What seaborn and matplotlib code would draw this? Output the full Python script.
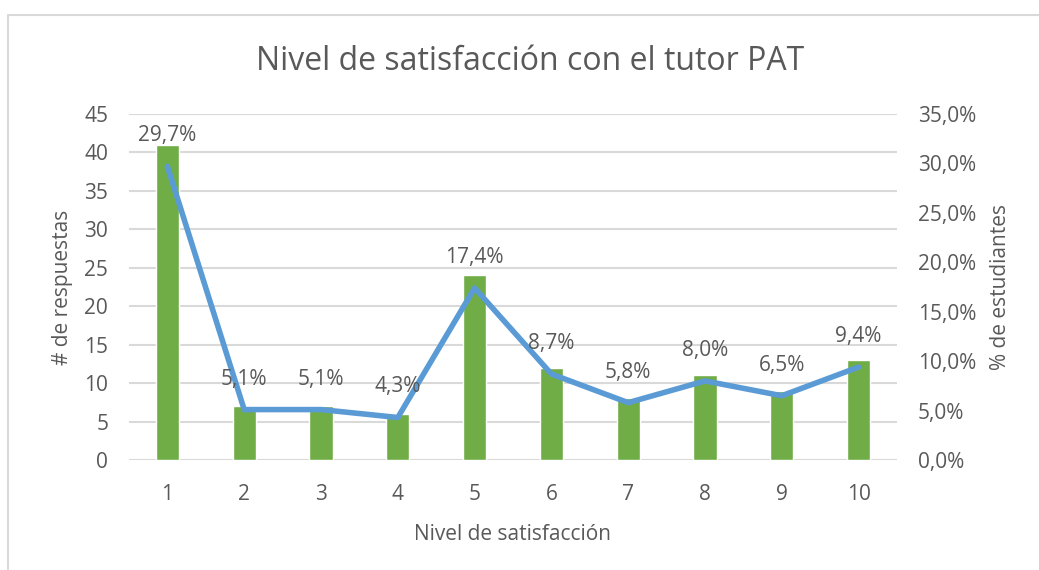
import matplotlib
matplotlib.use("Agg")
import matplotlib.pyplot as plt
import seaborn as sns
import pandas as pd
from matplotlib.lines import Line2D
from matplotlib.ticker import FuncFormatter

niveles = ["1", "2", "3", "4", "5", "6", "7", "8", "9", "10"]
respuestas = [41, 7, 7, 6, 24, 12, 8, 11, 9, 13]
porcentaje = [29.7, 5.1, 5.1, 4.3, 17.4, 8.7, 5.8, 8.0, 6.5, 9.4]

df = pd.DataFrame({"nivel": niveles, "resp": respuestas, "pct": porcentaje})
df["pos"] = range(len(df))

sns.set_style("white")
plt.rcParams["font.family"] = ["Open Sans", "DejaVu Sans"]

gris = "#595959"
verde = "#70AD47"
azul = "#5B9BD5"

fig = plt.figure(figsize=(10.39, 5.70), dpi=100)
ax = fig.add_axes([129 / 1039, 1 - 460 / 570, 768 / 1039, 346 / 570])

sns.barplot(data=df, x="nivel", y="resp", color=verde, width=0.3,
            saturation=1, ax=ax, zorder=2)
ax.set_ylim(0, 45)
ax.set_yticks(range(0, 46, 5))
ax.set_xlim(-0.5, len(df) - 0.5)
ax.yaxis.grid(True, color="#D9D9D9", linewidth=1.5, zorder=0)
ax.set_axisbelow(True)
for s in ax.spines.values():
    s.set_visible(False)
ax.tick_params(axis="y", length=0, labelsize=15, colors=gris, pad=15)
ax.tick_params(axis="x", length=0, labelsize=15, colors=gris, pad=17)
ax.set_xlabel("Nivel de satisfacción", fontsize=15, color=gris, labelpad=14)
ax.set_ylabel("# de respuestas", fontsize=15, color=gris, labelpad=8)

ax2 = ax.twinx()
sns.lineplot(data=df, x="pos", y="pct", color=azul, linewidth=4,
             ax=ax2, zorder=3)
ax2.set_ylim(0, 35)
ax2.set_yticks(range(0, 36, 5))
ax2.yaxis.set_major_formatter(FuncFormatter(lambda v, p: f"{v:.1f}%".replace(".", ",")))
for s in ax2.spines.values():
    s.set_visible(False)
ax2.tick_params(axis="y", length=0, labelsize=15, colors=gris, pad=15)
ax2.set_ylabel("% de estudiantes", fontsize=15, color=gris, labelpad=10)
ax2.set_xlabel("")
ax2.set_xlim(-0.5, len(df) - 0.5)

for x, v in zip(df["pos"], df["pct"]):
    ax2.annotate(f"{v:.1f}%".replace(".", ","), (x, v), xytext=(0, 22),
                 textcoords="offset points", ha="center", va="center",
                 fontsize=15, color=gris)

fig.suptitle("Nivel de satisfacción con el tutor PAT", x=0.51, y=1 - 62 / 570,
             va="center", fontsize=23, color=gris)

# chart frame (left and top edges visible)
fig.add_artist(Line2D([8 / 1039, 8 / 1039], [0, 1 - 15 / 570],
                      transform=fig.transFigure, color="#D9D9D9", linewidth=1.5))
fig.add_artist(Line2D([8 / 1039, 1], [1 - 15 / 570, 1 - 15 / 570],
                      transform=fig.transFigure, color="#D9D9D9", linewidth=1.5))

fig.savefig("out.png", dpi=100)
